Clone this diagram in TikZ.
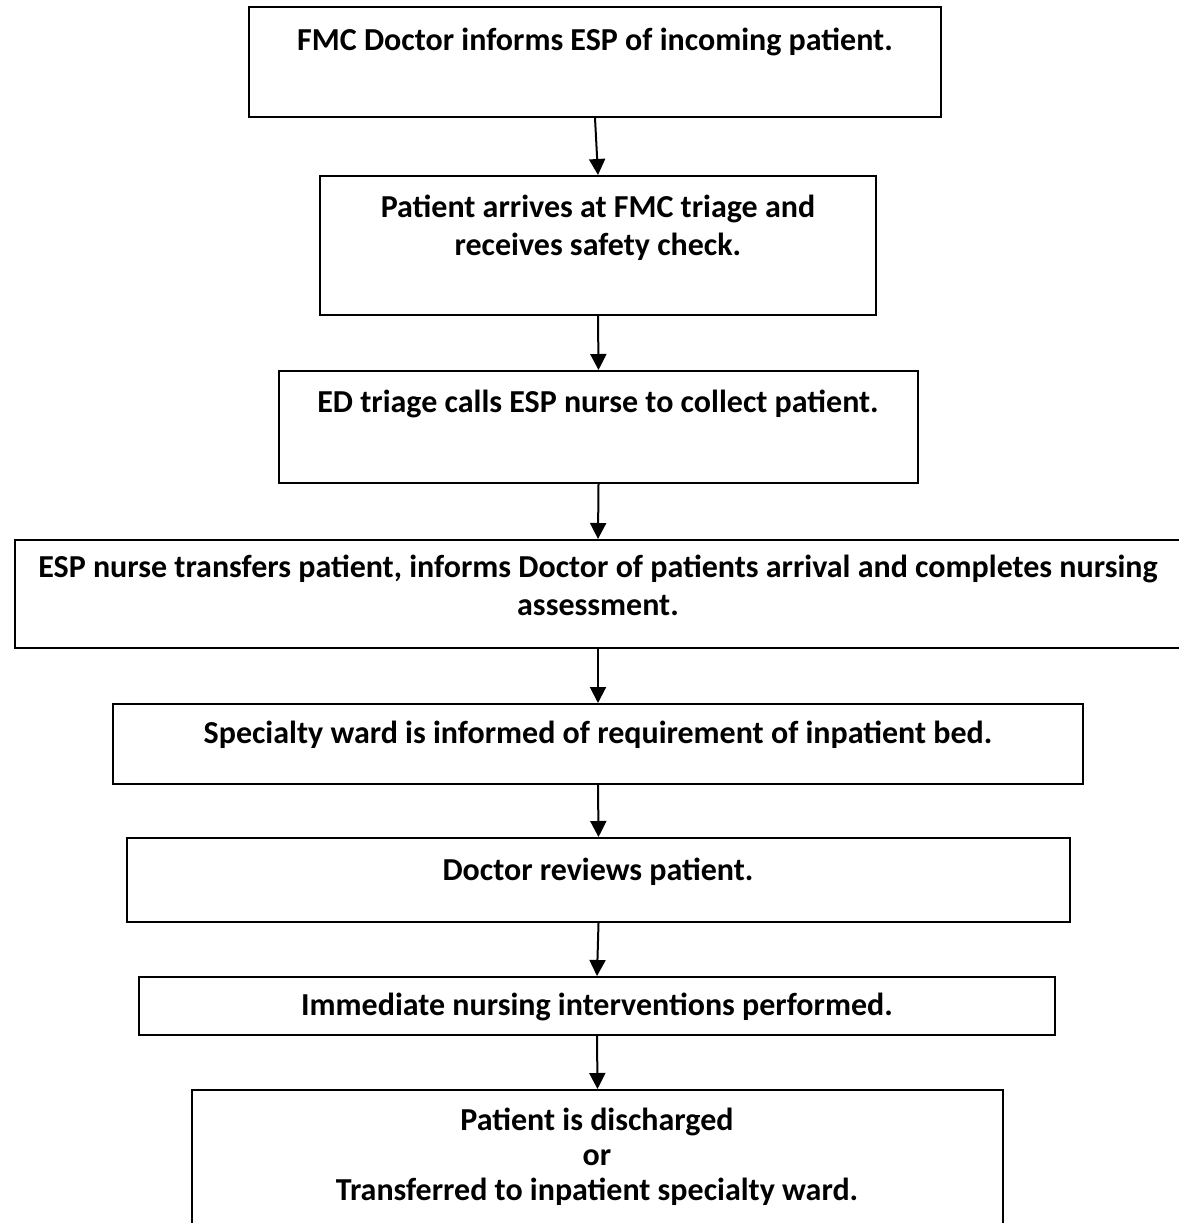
\documentclass[tikz,border=0pt]{standalone}
\usepackage{fontspec}
\setmainfont{Carlito}
\usetikzlibrary{arrows.meta}
\tikzset{
  box/.style={draw=black, line width=1.5pt, inner sep=0pt, fill=white},
  lbl/.style={anchor=base, inner sep=0pt, align=center, font=\bfseries\fontsize{24}{28.5}\selectfont},
  flow/.style={line width=1.5pt, -{Triangle[length=12pt,width=12pt]}}
}
\begin{document}
\begin{tikzpicture}[x=0.75pt,y=-0.75pt]
\useasboundingbox (0,0) rectangle (1178,1223);
\node[box, minimum width=519pt, minimum height=82.5pt] (b1) at (595,62) {};
\node[box, minimum width=417pt, minimum height=104.25pt] (b2) at (598,245.5) {};
\node[box, minimum width=479.25pt, minimum height=84pt] (b3) at (598.5,427) {};
\node[box, minimum width=874.5pt, minimum height=81pt] (b4) at (598,594) {};
\node[box, minimum width=727.5pt, minimum height=60pt] (b5) at (598,744) {};
\node[box, minimum width=707.25pt, minimum height=63pt] (b6) at (598.5,880) {};
\node[box, minimum width=687pt, minimum height=43.5pt] (b7) at (597,1006) {};
\node[box, minimum width=608.25pt, minimum height=102pt] (b8) at (597.5,1158) {};

\node[lbl] (t1) at (595,51) {FMC Doctor informs ESP of incoming patient.};
\node[lbl] (t2) at (598,256) {Patient arrives at FMC triage and\\receives safety check.};
\node[lbl] (t3) at (598,412) {ED triage calls ESP nurse to collect patient.};
\node[lbl] (t4) at (598,615) {ESP nurse transfers patient, informs Doctor of patients arrival and completes nursing\\assessment.};
\node[lbl] (t5) at (598,743) {Specialty ward is informed of requirement of inpatient bed.};
\node[lbl] (t6) at (598,880) {Doctor reviews patient.};
\node[lbl] (t7) at (597,1015) {Immediate nursing interventions performed.};
\node[lbl, font=\bfseries\fontsize{24}{26.25}\selectfont] (t8) at (597,1200) {Patient is discharged\\or\\Transferred to inpatient specialty ward.};

\draw[flow] (b1.south) -- (b2.north);
\draw[flow] (b2.south) -- (b3.north);
\draw[flow] (b3.south) -- (b4.north);
\draw[flow] (b4.south) -- (b5.north);
\draw[flow] (b5.south) -- (b6.north);
\draw[flow] (b6.south) -- (b7.north);
\draw[flow] (b7.south) -- (b8.north);
\end{tikzpicture}
\end{document}
